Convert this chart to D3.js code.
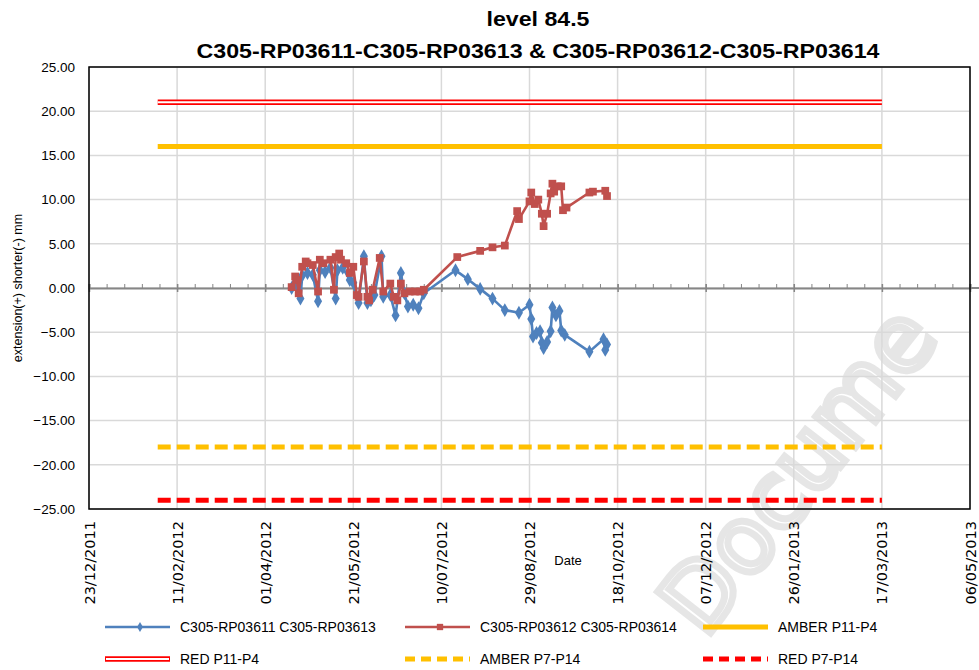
<!DOCTYPE html>
<html>
<head>
<meta charset="utf-8">
<script src="https://cdn.jsdelivr.net/npm/d3@7"></script>
<style>
  body { margin: 0; background: #fff; }
  svg { display: block; font-family: "Liberation Sans", Arial, sans-serif; }
</style>
</head>
<body>
<div id="chart"></div>
<script>
/* global d3 */

// Series 1: C305-RP03611 C305-RP03613 (blue, diamonds)
const blueDates = [
  '16/04/2012', '18/04/2012', '19/04/2012', '21/04/2012', '22/04/2012', '25/04/2012', '28/04/2012',
  '01/05/2012', '02/05/2012', '05/05/2012', '08/05/2012', '11/05/2012', '12/05/2012', '15/05/2012',
  '19/05/2012', '21/05/2012', '24/05/2012', '27/05/2012', '29/05/2012', '31/05/2012', '02/06/2012',
  '06/06/2012', '07/06/2012', '11/06/2012', '14/06/2012', '17/06/2012', '19/06/2012', '21/06/2012',
  '24/06/2012', '27/06/2012', '30/06/2012', '18/07/2012', '25/07/2012', '01/08/2012', '08/08/2012',
  '15/08/2012', '23/08/2012', '29/08/2012', '30/08/2012', '31/08/2012', '02/09/2012', '04/09/2012',
  '05/09/2012', '06/09/2012', '08/09/2012', '10/09/2012', '11/09/2012', '13/09/2012', '15/09/2012',
  '16/09/2012', '18/09/2012', '02/10/2012', '10/10/2012', '11/10/2012', '12/10/2012'
]
const blueValues = [
  0.0, 0.6, 0.3, -1.2, 1.4, 1.7, 1.5,
  -1.5, 2.0, 1.8, 2.3, -1.2, 2.0, 2.3,
  0.9, 0.6, -1.7, 3.6, -1.7, -1.4, -0.8,
  3.6, -1.0, -0.8, -3.1, 1.7, -0.6, -2.1,
  -1.9, -2.3, -0.6, 2.0, 1.0, -0.1, -1.2,
  -2.5, -2.8, -1.9, -3.5, -5.5, -5.1, -4.9,
  -6.2, -6.8, -6.1, -4.9, -2.2, -3.1, -2.6,
  -4.8, -5.3, -7.2, -5.8, -7.0, -6.4
]

// Series 2: C305-RP03612 C305-RP03614 (red, squares)
const redDates = [
  '16/04/2012', '18/04/2012', '19/04/2012', '20/04/2012', '22/04/2012', '24/04/2012', '25/04/2012',
  '28/04/2012', '01/05/2012', '02/05/2012', '04/05/2012', '08/05/2012', '10/05/2012', '11/05/2012',
  '13/05/2012', '14/05/2012', '17/05/2012', '19/05/2012', '21/05/2012', '23/05/2012', '24/05/2012',
  '27/05/2012', '29/05/2012', '30/05/2012', '01/06/2012', '05/06/2012', '07/06/2012', '11/06/2012',
  '13/06/2012', '15/06/2012', '17/06/2012', '19/06/2012', '22/06/2012', '25/06/2012', '28/06/2012',
  '30/06/2012', '19/07/2012', '01/08/2012', '08/08/2012', '15/08/2012', '22/08/2012', '23/08/2012',
  '29/08/2012', '30/08/2012', '01/09/2012', '03/09/2012', '05/09/2012', '06/09/2012', '08/09/2012',
  '10/09/2012', '11/09/2012', '12/09/2012', '14/09/2012', '16/09/2012', '17/09/2012', '19/09/2012',
  '02/10/2012', '04/10/2012', '11/10/2012', '12/10/2012'
]
const redValues = [
  0.1, 1.3, 0.9, -0.6, 2.4, 3.0, 2.8,
  2.6, -0.4, 3.2, 2.8, 3.2, -0.2, 3.5,
  3.9, 3.2, 2.8, 1.7, 2.4, -0.8, -1.0,
  3.0, -1.0, -1.4, -0.2, 3.4, -0.4, 0.5,
  -1.0, -1.4, 0.5, -0.6, -0.4, -0.4, -0.4,
  -0.2, 3.5, 4.2, 4.6, 4.8, 8.7, 7.8,
  9.8, 10.8, 9.5, 10.0, 8.4, 7.0, 8.4,
  10.7, 11.8, 10.9, 11.5, 11.5, 8.8, 9.1,
  10.8, 10.9, 11.0, 10.4
]

// Alarm levels
const limitNames = ['RED P11-P4', 'AMBER P11-P4', 'AMBER P7-P14', 'RED P7-P14']
const limitValues = [21, 16, -18, -24]
const limitStart = '31/01/2012'
const limitEnd = '17/03/2013'

// Axes
const xTickLabels = ['23/12/2011', '11/02/2012', '01/04/2012', '21/05/2012', '10/07/2012', '29/08/2012',
  '18/10/2012', '07/12/2012', '26/01/2013', '17/03/2013', '06/05/2013']
const yTickValues = [25, 20, 15, 10, 5, 0, -5, -10, -15, -20, -25]

const titleLines = ['level 84.5', 'C305-RP03611-C305-RP03613 & C305-RP03612-C305-RP03614']
const yTitle = 'extension(+) shorter(-) mm'
const xTitle = 'Date'

// Canvas
const width = 979,
  height = 670,
  plotLeft = 89,
  plotRight = 970,
  plotTop = 67,
  plotBottom = 509

const parse = d3.timeParse('%d/%m/%Y')
const fmt = d3.timeFormat('%d/%m/%Y')

const blue = '#4F81BD',
  red = '#C0504D',
  amber = '#FFC000',
  brightRed = '#FF0000',
  grid = '#D9D9D9',
  axisGrey = '#868686'

let svg = d3.select('#chart')
  .append('svg')
  .attr('width', width)
  .attr('height', height)

const xTicks = xTickLabels.map(parse)
let xScale = d3.scaleTime()
  .domain([xTicks[0], xTicks[xTicks.length - 1]])
  .range([plotLeft, plotRight])
let yScale = d3.scaleLinear()
  .domain([-25, 25])
  .range([plotBottom, plotTop])

// faint watermark behind the chart
svg.append('text')
  .attr('transform', 'translate(705,640) rotate(-52)')
  .attr('font-size', 92)
  .attr('fill', 'none')
  .attr('stroke', '#e6e6e6')
  .attr('stroke-width', 7)
  .attr('font-family', 'DejaVu Sans')
  .text('Docume')

// gridlines
svg.append('g')
  .selectAll('line')
  .data(yTickValues)
  .enter()
  .append('line')
  .attr('x1', plotLeft).attr('x2', plotRight)
  .attr('y1', d => yScale(d)).attr('y2', d => yScale(d))
  .attr('stroke', grid).attr('stroke-width', 1.5)
svg.append('g')
  .selectAll('line')
  .data(xTicks)
  .enter()
  .append('line')
  .attr('x1', d => xScale(d)).attr('x2', d => xScale(d))
  .attr('y1', plotTop).attr('y2', plotBottom)
  .attr('stroke', grid).attr('stroke-width', 1.5)

// zero axis with major and minor ticks (minor every 10 days)
const minorTicks = d3.range(0, 501, 10).map(n => d3.timeDay.offset(xTicks[0], n))
let zeroAxis = d3.axisBottom(xScale)
  .tickValues(minorTicks)
  .tickSize(-4)
  .tickFormat('')
svg.append('g')
  .attr('transform', `translate(0, ${yScale(0)})`)
  .call(zeroAxis)
  .call(g => g.selectAll('line').attr('stroke', axisGrey).attr('stroke-width', 1))
  .call(g => g.select('.domain').attr('stroke', axisGrey).attr('stroke-width', 2))
let zeroMajor = d3.axisBottom(xScale)
  .tickValues(xTicks)
  .tickSizeInner(8)
  .tickSizeOuter(0)
  .tickFormat('')
svg.append('g')
  .attr('transform', `translate(0, ${yScale(0) - 4})`)
  .call(zeroMajor)
  .call(g => g.select('.domain').remove())
  .call(g => g.selectAll('line').attr('stroke', axisGrey).attr('stroke-width', 1.5))
svg.append('line')
  .attr('x1', plotRight).attr('x2', width)
  .attr('y1', yScale(0)).attr('y2', yScale(0))
  .attr('stroke', axisGrey).attr('stroke-width', 2)

// plot border
svg.append('rect')
  .attr('x', plotLeft).attr('y', plotTop)
  .attr('width', plotRight - plotLeft).attr('height', plotBottom - plotTop)
  .attr('fill', 'none').attr('stroke', '#000').attr('stroke-width', 1.5)

// y axis labels
let yAxis = d3.axisLeft(yScale)
  .tickValues(yTickValues)
  .tickSize(0)
  .tickPadding(14)
  .tickFormat(d3.format('.2f'))
svg.append('g')
  .attr('transform', `translate(${plotLeft}, 0)`)
  .call(yAxis)
  .call(g => g.select('.domain').remove())
  .call(g => g.selectAll('text').attr('font-size', 13.5).attr('fill', '#000')
    .attr('font-family', 'Liberation Sans'))

// x axis labels, rotated, at the bottom
let xAxis = d3.axisBottom(xScale)
  .tickValues(xTicks)
  .tickSize(0)
  .tickFormat(fmt)
svg.append('g')
  .attr('transform', `translate(0, ${plotBottom})`)
  .call(xAxis)
  .call(g => g.select('.domain').remove())
  .call(g => g.selectAll('text')
    .attr('font-size', 14.5)
    .attr('font-family', 'DejaVu Sans')
    .attr('fill', '#000')
    .attr('transform', 'rotate(-90)')
    .attr('text-anchor', 'end')
    .attr('x', -12)
    .attr('y', 0)
    .attr('dy', '0.35em'))

// axis titles
svg.append('text')
  .attr('transform', `translate(18, ${(plotTop + plotBottom) / 2}) rotate(-90)`)
  .attr('text-anchor', 'middle')
  .attr('dy', '0.35em')
  .attr('font-size', 12.5)
  .text(yTitle)
svg.append('text')
  .attr('x', 568).attr('y', 565)
  .attr('text-anchor', 'middle')
  .attr('font-size', 13)
  .text(xTitle)

// title
const titleWidths = [103, 683]
svg.selectAll('.title')
  .data(titleLines)
  .enter()
  .append('text')
  .attr('class', 'title')
  .attr('x', 538)
  .attr('y', (d, i) => 26 + i * 32)
  .attr('text-anchor', 'middle')
  .attr('font-size', 21)
  .attr('font-weight', 'bold')
  .attr('textLength', (d, i) => titleWidths[i])
  .attr('lengthAdjust', 'spacingAndGlyphs')
  .text(d => d)

// limit lines
const limitStyles = [
  { stroke: brightRed, width: 5.5, dash: null, inner: true },
  { stroke: amber, width: 5, dash: null, inner: false },
  { stroke: amber, width: 5, dash: '13 6', inner: false },
  { stroke: brightRed, width: 5, dash: '13 6', inner: false }
]
const limits = limitNames.map((name, i) => ({
  name: name,
  style: limitStyles[i],
  points: [[parse(limitStart), limitValues[i]], [parse(limitEnd), limitValues[i]]]
}))
let line = d3.line()
  .x(d => xScale(d[0]))
  .y(d => yScale(d[1]))

limits.forEach(l => {
  svg.append('path')
    .attr('d', line(l.points))
    .attr('fill', 'none')
    .attr('stroke', l.style.stroke)
    .attr('stroke-width', l.style.width)
    .attr('stroke-dasharray', l.style.dash)
  if (l.style.inner) {
    svg.append('path')
      .attr('d', line(l.points))
      .attr('fill', 'none')
      .attr('stroke', '#fff')
      .attr('stroke-width', 2)
  }
})

// data series
const series = [
  { name: 'C305-RP03611 C305-RP03613', color: blue, marker: d3.symbolDiamond, size: 56,
    points: blueDates.map((d, i) => [parse(d), blueValues[i]]) },
  { name: 'C305-RP03612 C305-RP03614', color: red, marker: d3.symbolSquare, size: 60,
    points: redDates.map((d, i) => [parse(d), redValues[i]]) }
]

series.forEach(s => {
  svg.append('path')
    .attr('d', line(s.points))
    .attr('fill', 'none')
    .attr('stroke', s.color)
    .attr('stroke-width', 2.6)
    .attr('stroke-linejoin', 'round')
  svg.append('g')
    .selectAll('path')
    .data(s.points)
    .enter()
    .append('path')
    .attr('transform', d => `translate(${xScale(d[0])}, ${yScale(d[1])})`)
    .attr('d', d3.symbol().type(s.marker).size(s.size))
    .attr('fill', s.color)
})

// legend
const legendItems = [
  { name: series[0].name, x: 105, y: 627, color: blue, marker: d3.symbolDiamond, size: 30 },
  { name: series[1].name, x: 405, y: 627, color: red, marker: d3.symbolSquare, size: 40 },
  { name: limitNames[1], x: 703, y: 627, style: limitStyles[1] },
  { name: limitNames[0], x: 105, y: 659, style: limitStyles[0] },
  { name: limitNames[2], x: 405, y: 659, style: limitStyles[2] },
  { name: limitNames[3], x: 703, y: 659, style: limitStyles[3] }
]
let legend = svg.append('g')
legendItems.forEach(item => {
  let g = legend.append('g').attr('transform', `translate(${item.x}, ${item.y})`)
  if (item.style) {
    g.append('line')
      .attr('x1', 0).attr('x2', 65)
      .attr('stroke', item.style.stroke)
      .attr('stroke-width', item.style.width)
      .attr('stroke-dasharray', item.style.dash ? '10 6' : null)
    if (item.style.inner) {
      g.append('line')
        .attr('x1', 1).attr('x2', 64)
        .attr('stroke', '#fff')
        .attr('stroke-width', 2)
    }
  } else {
    g.append('line')
      .attr('x1', 0).attr('x2', 65)
      .attr('stroke', item.color)
      .attr('stroke-width', 2.4)
    g.append('path')
      .attr('transform', 'translate(35, 0)')
      .attr('d', d3.symbol().type(item.marker).size(item.size))
      .attr('fill', item.color)
  }
  g.append('text')
    .attr('x', 75)
    .attr('dy', '0.35em')
    .attr('font-size', 14)
    .text(item.name)
})
</script>
</body>
</html>
